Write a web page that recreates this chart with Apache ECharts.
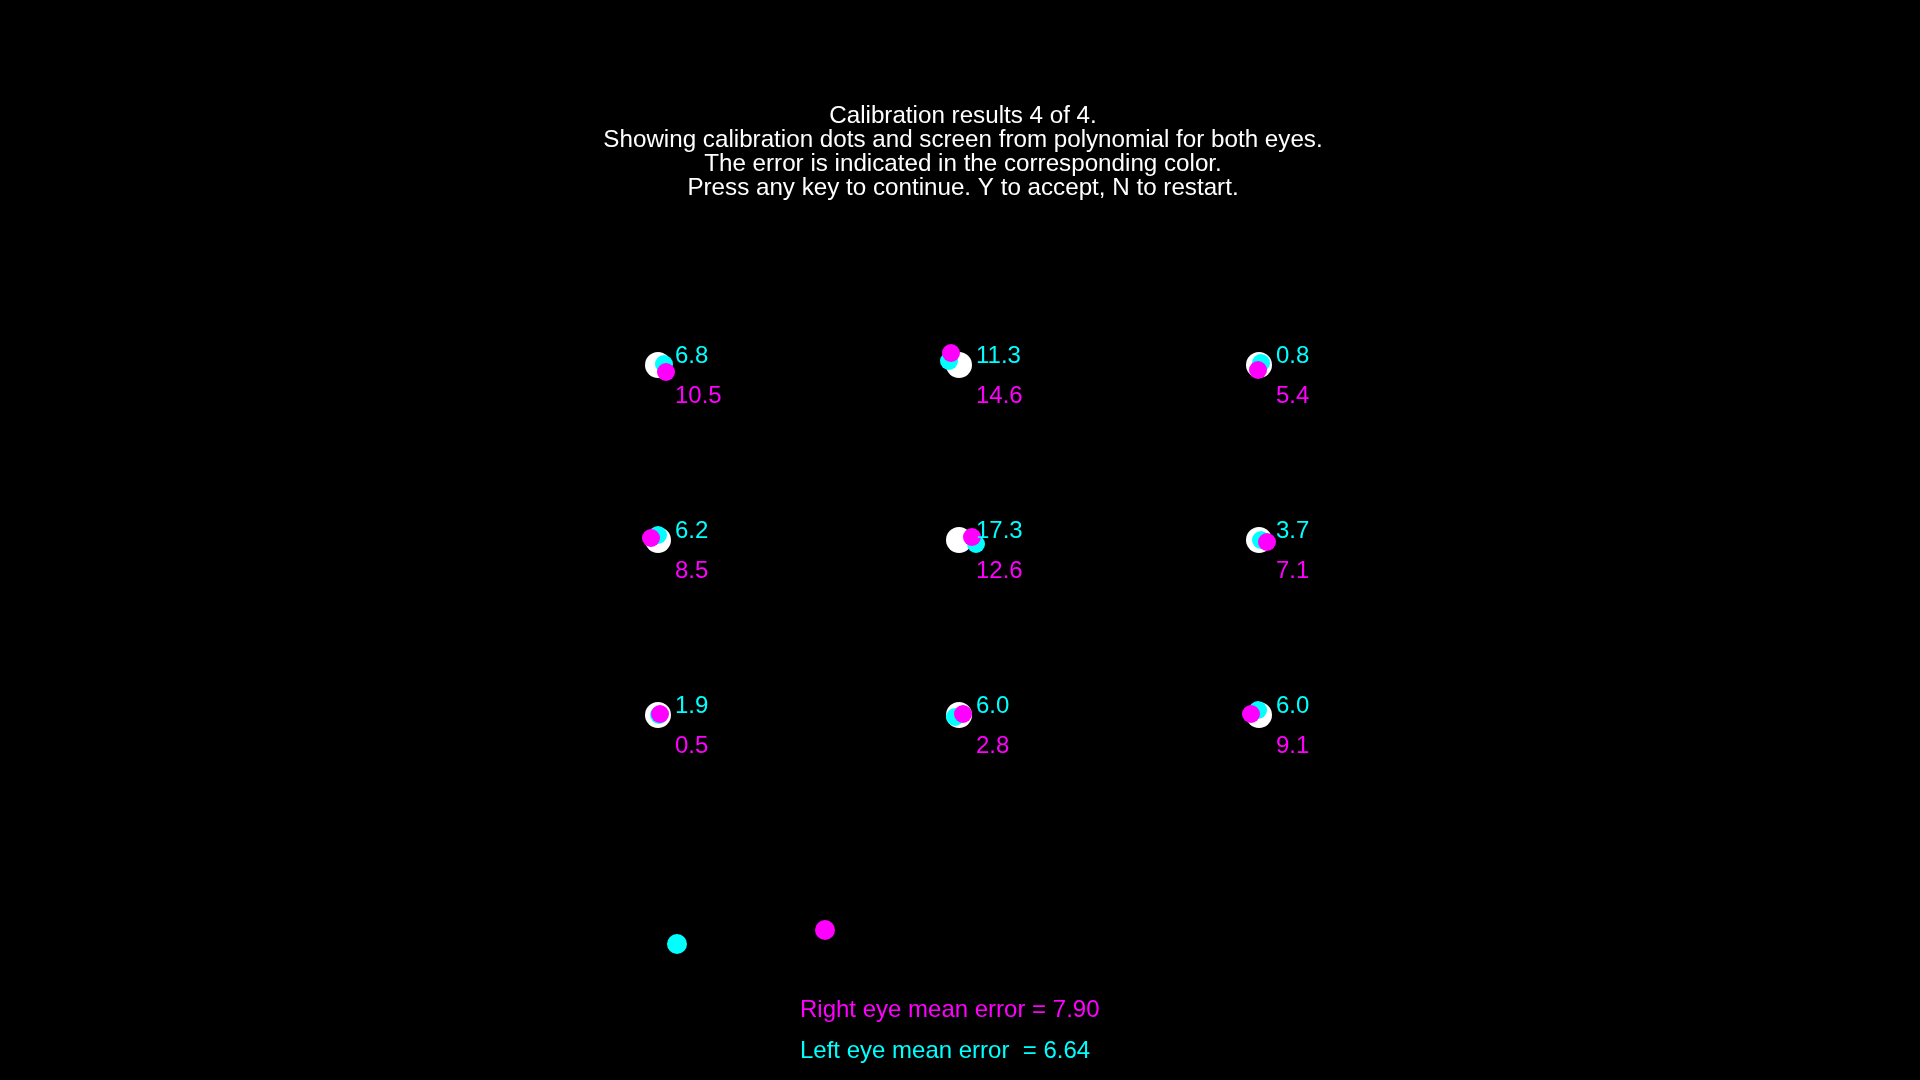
<!DOCTYPE html>
<html>
<head>
<meta charset="utf-8">
<script src="https://cdn.jsdelivr.net/npm/echarts@6/dist/echarts.min.js"></script>
<style>
html,body{margin:0;padding:0;background:#000;}
#chart{width:1920px;height:1080px;}
</style>
</head>
<body>
<div id="chart"></div>
<script>
// Screen is 1920 x 1080 pixels; all values in screen pixel units.
const titleLines = [
  'Calibration results 4 of 4.',
  'Showing calibration dots and screen from polynomial for both eyes.',
  'The error is indicated in the corresponding color.',
  'Press any key to continue. Y to accept, N to restart.'
];
// calibration targets (white)
const targetX = [658, 959, 1259, 658, 959, 1259, 658, 959, 1259];
const targetY = [365, 365, 365, 540, 540, 540, 715, 715, 715];
// left eye estimates (cyan)
const leftX = [664, 949, 1261, 658, 976, 1261, 659, 955, 1258];
const leftY = [364, 361, 363, 535, 544, 540, 715, 717, 710];
// right eye estimates (magenta)
const rightX = [666, 951, 1258, 651, 972, 1267, 660, 963, 1251];
const rightY = [372, 353, 370, 538, 537, 542, 714, 714, 714];
// errors per target
const leftErr  = ['6.8', '11.3', '0.8', '6.2', '17.3', '3.7', '1.9', '6.0', '6.0'];
const rightErr = ['10.5', '14.6', '5.4', '8.5', '12.6', '7.1', '0.5', '2.8', '9.1'];
// current gaze dots at bottom
const gazeLeft = [677, 944];
const gazeRight = [825, 930];
// mean errors
const meanRight = '7.90';
const meanLeft = '6.64';

const CYAN = '#00ffff';
const MAGENTA = '#ff00ff';
const FONT = '"Liberation Sans", Arial, sans-serif';

const zip = (xs, ys) => xs.map((x, i) => [x, ys[i]]);

const chart = echarts.init(document.getElementById('chart'), null, {renderer: 'canvas'});

const labelSeries = (vals, color, offY) => ({
  type: 'scatter',
  symbolSize: 0,
  itemStyle: {color: 'rgba(0,0,0,0)', opacity: 1},
  silent: true,
  z: 10,
  data: targetX.map((x, i) => ({value: [x, targetY[i]], label: {formatter: vals[i]}})),
  label: {
    show: true,
    position: [17, offY],
    align: 'left',
    verticalAlign: 'middle',
    color: color,
    opacity: 1,
    fontSize: 24,
    fontFamily: FONT
  }
});

const graphics = titleLines.map((t, i) => ({
  type: 'text',
  x: 963,
  y: 116.5 + i * 24,
  style: {
    text: t,
    fill: '#ffffff',
    font: '24.2px ' + FONT,
    textAlign: 'center',
    textVerticalAlign: 'middle'
  }
}));
graphics.push({
  type: 'text', x: 800, y: 1010,
  style: {text: 'Right eye mean error = ' + meanRight, fill: MAGENTA, font: '24px ' + FONT, textAlign: 'left', textVerticalAlign: 'middle'}
});
graphics.push({
  type: 'text', x: 800, y: 1051,
  style: {text: 'Left eye mean error  = ' + meanLeft, fill: CYAN, font: '24px ' + FONT, textAlign: 'left', textVerticalAlign: 'middle'}
});

const dot = (size, color, z, data) => ({
  type: 'scatter', symbolSize: size, z: z, silent: true,
  itemStyle: {color: color, opacity: 1},
  data: data
});

chart.setOption({
  backgroundColor: '#000000',
  animation: false,
  grid: {left: 0, right: 0, top: 0, bottom: 0},
  xAxis: {type: 'value', min: 0, max: 1920, show: false},
  yAxis: {type: 'value', min: 0, max: 1080, inverse: true, show: false},
  graphic: graphics,
  series: [
    dot(26, '#ffffff', 2, zip(targetX, targetY)),
    dot(18, CYAN, 3, zip(leftX, leftY)),
    dot(18, MAGENTA, 4, zip(rightX, rightY)),
    dot(20, CYAN, 3, [gazeLeft]),
    dot(20, MAGENTA, 4, [gazeRight]),
    labelSeries(leftErr, CYAN, -9),
    labelSeries(rightErr, MAGENTA, 31)
  ]
});
</script>
</body>
</html>
